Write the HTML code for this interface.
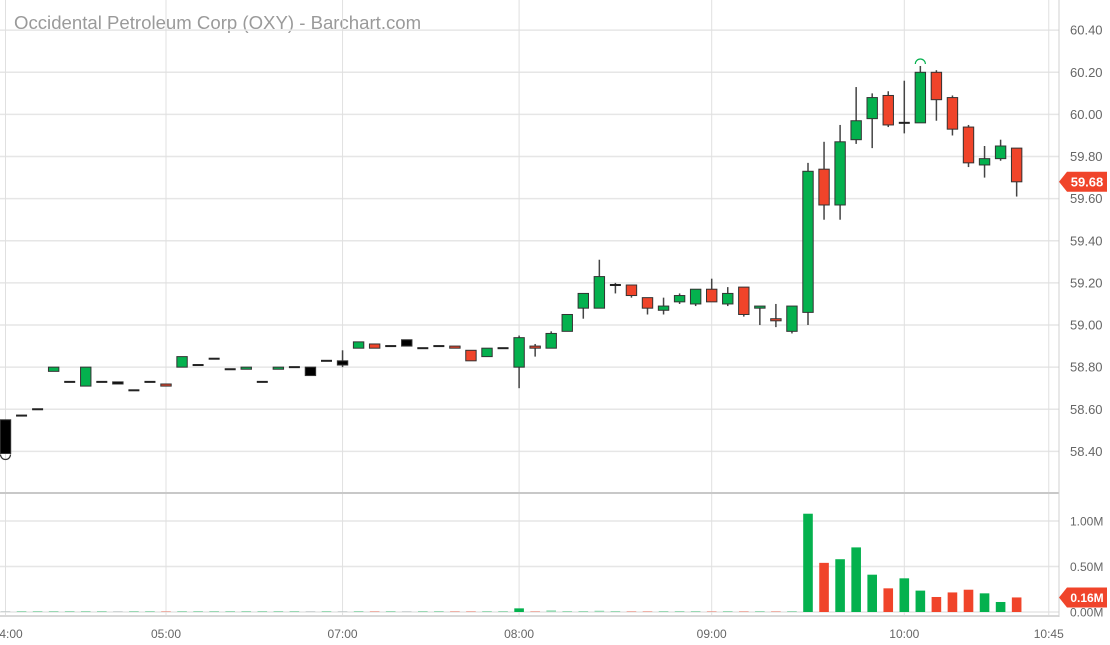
<!DOCTYPE html>
<html><head><meta charset="utf-8"><style>
html,body{margin:0;padding:0;background:#fff;width:1110px;height:645px;overflow:hidden}
svg{display:block;font-family:"Liberation Sans",sans-serif}
</style></head><body>
<svg id="chart" width="1110" height="645" viewBox="0 0 1110 645" xmlns="http://www.w3.org/2000/svg">
<text x="14" y="29" font-size="18.6" fill="#9a9a9a">Occidental Petroleum Corp (OXY) - Barchart.com</text>
</svg>
<script>
const opens=[58.55,58.57,58.60,58.78,58.73,58.71,58.73,58.73,58.69,58.73,58.72,58.80,58.81,58.84,58.79,58.79,58.73,58.79,58.80,58.80,58.83,58.83,58.89,58.91,58.90,58.93,58.89,58.90,58.90,58.88,58.85,58.89,58.80,58.90,58.89,58.97,59.08,59.08,59.19,59.19,59.13,59.07,59.11,59.10,59.17,59.10,59.18,59.08,59.03,58.97,59.06,59.74,59.57,59.88,59.98,60.09,59.96,59.96,60.20,60.08,59.94,59.76,59.79,59.84];
const highs=[58.55,58.57,58.60,58.80,58.73,58.80,58.73,58.73,58.69,58.73,58.72,58.85,58.81,58.84,58.79,58.80,58.73,58.80,58.80,58.80,58.83,58.88,58.92,58.91,58.90,58.93,58.89,58.90,58.90,58.88,58.89,58.89,58.95,58.91,58.97,59.05,59.15,59.31,59.20,59.19,59.13,59.13,59.15,59.17,59.22,59.18,59.18,59.08,59.10,59.09,59.77,59.87,59.95,60.13,60.10,60.11,60.16,60.23,60.21,60.09,59.95,59.85,59.88,59.84];
const lows=[58.39,58.57,58.60,58.78,58.73,58.71,58.73,58.72,58.69,58.73,58.71,58.80,58.81,58.84,58.79,58.79,58.73,58.79,58.80,58.76,58.83,58.80,58.89,58.89,58.90,58.90,58.89,58.90,58.89,58.83,58.85,58.89,58.70,58.85,58.89,58.97,59.03,59.08,59.15,59.13,59.05,59.05,59.10,59.09,59.11,59.09,59.04,59.00,58.99,58.96,59.00,59.50,59.50,59.86,59.84,59.94,59.91,59.96,59.97,59.90,59.75,59.70,59.78,59.61];
const closes=[58.39,58.57,58.60,58.80,58.73,58.80,58.73,58.72,58.69,58.73,58.71,58.85,58.81,58.84,58.79,58.80,58.73,58.80,58.80,58.76,58.83,58.81,58.92,58.89,58.90,58.90,58.89,58.90,58.89,58.83,58.89,58.89,58.94,58.89,58.96,59.05,59.15,59.23,59.19,59.14,59.08,59.09,59.14,59.17,59.11,59.15,59.05,59.09,59.02,59.09,59.73,59.57,59.87,59.97,60.08,59.95,59.96,60.20,60.07,59.93,59.77,59.79,59.85,59.68];
const kinds="kddgdgdkddrgdddgdgdkdkgrdkddrrgdgrggggdrrgggrgrgrggrgggrdgrrrggr".split("");
const volumes=[0.005,0.005,0.005,0.005,0.005,0.005,0.005,0.005,0.005,0.005,0.005,0.005,0.005,0.005,0.005,0.005,0.005,0.005,0.005,0.005,0.005,0.008,0.005,0.005,0.005,0.005,0.005,0.005,0.008,0.008,0.008,0.005,0.04,0.01,0.02,0.01,0.01,0.015,0.01,0.01,0.01,0.01,0.01,0.01,0.01,0.01,0.01,0.01,0.01,0.01,1.08,0.54,0.58,0.71,0.41,0.26,0.37,0.235,0.165,0.215,0.245,0.205,0.11,0.16];
const priceTicks=[60.40,60.20,60.00,59.80,59.60,59.40,59.20,59.00,58.80,58.60,58.40];
const volTicks=[1.0,0.5,0.0];
const volTickLabels=["1.00M","0.50M","0.00M"];
const timeIdx=[0,10,21,32,44,56,65];
const timeLabels=["4:00","05:00","07:00","08:00","09:00","10:00","10:45"];
const lastPrice=59.68, lastVol=0.16;

const svg=document.getElementById('chart');
const NS="http://www.w3.org/2000/svg";
const X=i=>5.5+i*16.05;
const Y=p=>72.3+(60.20-p)*210.6;
const VY=v=>612-v*91;
function mk(t,a,p){const e=document.createElementNS(NS,t);for(const k in a)e.setAttribute(k,a[k]);(p||svg).appendChild(e);return e;}

const grid=mk('g',{});


priceTicks.forEach(p=>{mk('line',{x1:0,x2:1059,y1:Y(p),y2:Y(p),stroke:'#e6e6e6','stroke-width':1.5},grid);
 const t=mk('text',{x:1070,y:Y(p)+4.5,'font-size':13,fill:'#666'});t.textContent=p.toFixed(2);
 });
volTicks.forEach((v,k)=>{mk('line',{x1:0,x2:1059,y1:VY(v),y2:VY(v),stroke:'#e6e6e6','stroke-width':1.5},grid);
 const t=mk('text',{x:1070,y:VY(v)+4.5,'font-size':12,fill:'#666'});t.textContent=volTickLabels[k];
 });
timeIdx.forEach((i,k)=>{mk('line',{x1:X(i),x2:X(i),y1:0,y2:617,stroke:'#e0e0e0','stroke-width':1},grid);
 const lx=k===0?Math.max(X(i),11):X(i);
 const t=mk('text',{x:lx,y:638,'font-size':12,fill:'#666','text-anchor':'middle'});t.textContent=timeLabels[k];
 });
mk('line',{x1:0,x2:1059,y1:493,y2:493,stroke:'#c8c8c8','stroke-width':2},grid);
mk('line',{x1:0,x2:1059,y1:616,y2:616,stroke:'#d8d8d8','stroke-width':2},grid);
mk('line',{x1:1059,x2:1059,y1:0,y2:617,stroke:'#d0d0d0','stroke-width':1},grid);

const colorOf=k=>k==='g'?'#04b14e':k==='r'?'#f0442a':'#000';
const cg=mk('g',{});


opens.forEach((o,i)=>{
 const x=X(i),c=closes[i],k=kinds[i];
 const g=mk('g',{},cg);
 
 
 if(highs[i]>Math.max(o,c)+0.001||lows[i]<Math.min(o,c)-0.001)
  mk('line',{x1:x,x2:x,y1:Y(highs[i]),y2:Y(lows[i]),stroke:'#444','stroke-width':1.5},g);
 if(k==='d'){mk('rect',{x:x-5.5,y:Y(c)-1,width:11,height:2,fill:'#222'},g);return;}
 const top=Y(Math.max(o,c)),h=Math.max(2,Y(Math.min(o,c))-top);
 mk('rect',{x:x-5.2,y:top,width:10.4,height:h,fill:colorOf(k),stroke:'#333','stroke-width':1},g);
});
const m1=mk('path',{d:`M${X(0)-5} ${Y(lows[0])+1} a5 5 0 0 0 10 0`,fill:'none',stroke:'#333','stroke-width':1.2});

const m2=mk('path',{d:`M${X(57)-5} ${Y(highs[57])-2} a5 5 0 0 1 10 0`,fill:'none',stroke:'#04b14e','stroke-width':1.2});


const vg=mk('g',{});


volumes.forEach((v,i)=>{
 const k=kinds[i];const col=k==='r'?'#f0442a':k==='k'?'#9aa':'#04b14e';
 const h=Math.max(1,VY(0)-VY(v));
 const r=mk('rect',{x:X(i)-4.8,y:VY(0)-h,width:9.6,height:h,fill:col,opacity:v<0.03?0.35:1},vg);
 
});

function tag(val,label,name,fs){
 const y=name==='last-price-tag'?Y(val):VY(val);
 const g=mk('g',{});
 mk('path',{d:`M1059 ${y} L1067 ${y-10} L1107 ${y-10} L1107 ${y+10} L1067 ${y+10} Z`,fill:'#f0442a'},g);
 const t=mk('text',{x:1087,y:y+4.5,'font-size':fs,'font-weight':'bold',fill:'#fff','text-anchor':'middle'},g);t.textContent=label;
}
tag(lastPrice,lastPrice.toFixed(2),'last-price-tag',13);
tag(lastVol,lastVol.toFixed(2)+'M','last-volume-tag',12);
</script>
</body></html>
